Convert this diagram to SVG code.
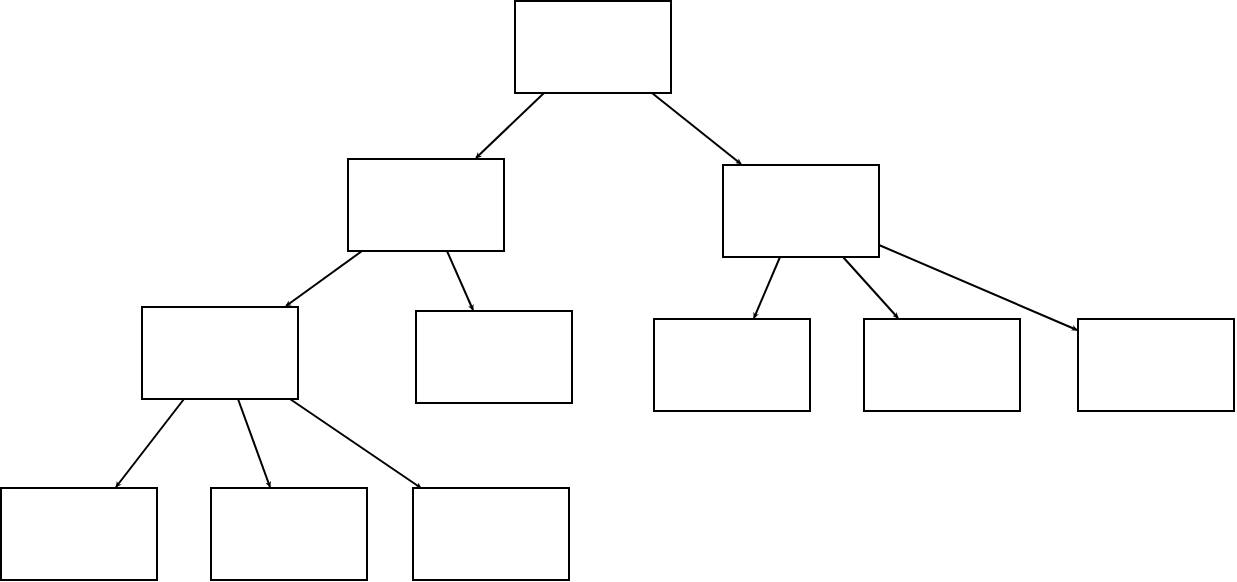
<svg xmlns="http://www.w3.org/2000/svg" width="1237" height="582" viewBox="0 0 1237 582">
<style>
.n{fill:#fff;stroke:#000;stroke-width:2}
.e{stroke:#000;stroke-width:2;fill:none;marker-end:url(#a)}
</style>
<defs><marker id="a" viewBox="0 0 10 10" refX="9" refY="5" markerWidth="6" markerHeight="6" markerUnits="userSpaceOnUse" orient="auto"><path d="M0,0L10,5L0,10L3,5Z" fill="#000" transform="scale(1)"/></marker></defs>
<rect width="1237" height="582" fill="#fff"/>
<g id="connectors">
<line class="e" x1="544" y1="93" x2="476" y2="158"/>
<line class="e" x1="652" y1="93" x2="741" y2="164"/>
<line class="e" x1="362" y1="251" x2="286" y2="306"/>
<line class="e" x1="447" y1="251" x2="473" y2="310"/>
<line class="e" x1="780" y1="257" x2="754" y2="318"/>
<line class="e" x1="843" y1="257" x2="898" y2="318"/>
<line class="e" x1="879" y1="245" x2="1077" y2="330"/>
<line class="e" x1="184" y1="399" x2="116" y2="487"/>
<line class="e" x1="238" y1="399" x2="270" y2="487"/>
<line class="e" x1="290" y1="399" x2="421" y2="488"/>
</g>
<g id="n1"><rect class="n" x="515" y="1" width="156" height="92"/></g>
<g id="n2"><rect class="n" x="348" y="159" width="156" height="92"/></g>
<g id="n3"><rect class="n" x="723" y="165" width="156" height="92"/></g>
<g id="n4"><rect class="n" x="142" y="307" width="156" height="92"/></g>
<g id="n5"><rect class="n" x="416" y="311" width="156" height="92"/></g>
<g id="n6"><rect class="n" x="654" y="319" width="156" height="92"/></g>
<g id="n7"><rect class="n" x="864" y="319" width="156" height="92"/></g>
<g id="n8"><rect class="n" x="1078" y="319" width="156" height="92"/></g>
<g id="n9"><rect class="n" x="1" y="488" width="156" height="92"/></g>
<g id="n10"><rect class="n" x="211" y="488" width="156" height="92"/></g>
<g id="n11"><rect class="n" x="413" y="488" width="156" height="92"/></g>
</svg>
